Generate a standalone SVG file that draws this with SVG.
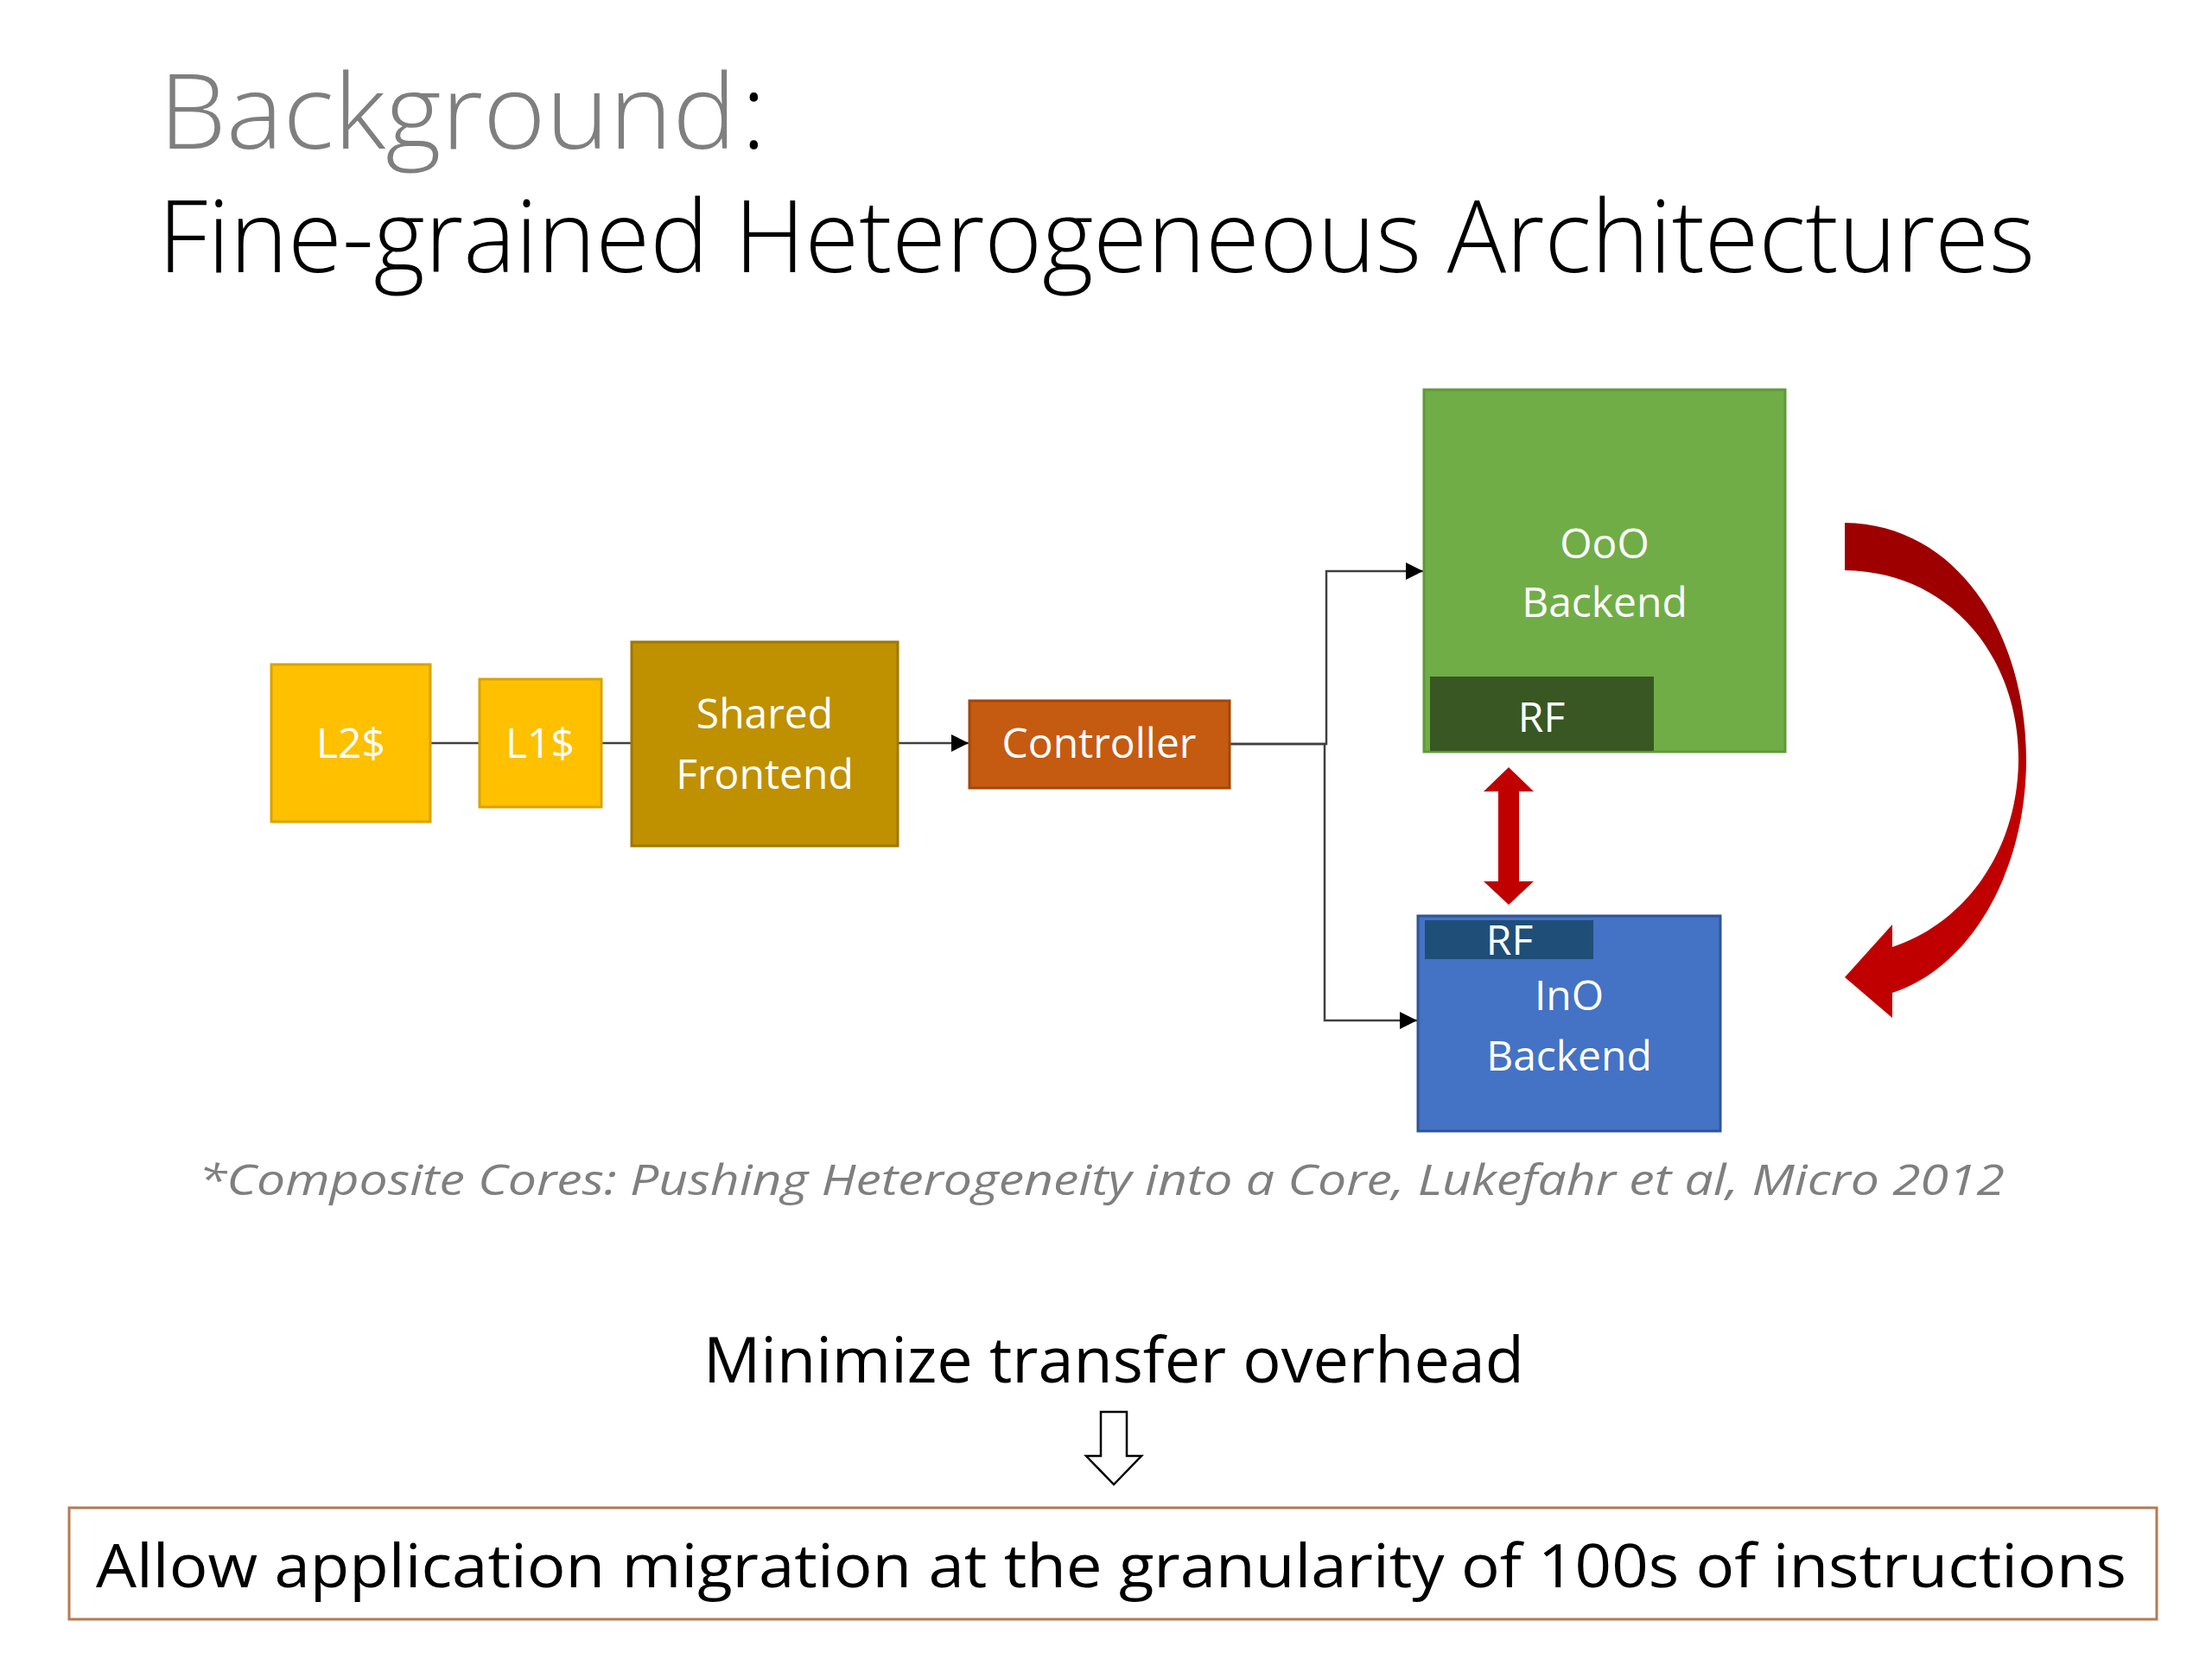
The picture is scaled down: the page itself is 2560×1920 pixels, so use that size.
<svg xmlns="http://www.w3.org/2000/svg" width="2560" height="1920" viewBox="0 0 2560 1920">
<style>
text{font-family:"Open Sans","Noto Sans","DejaVu Sans",sans-serif}
.lbl{fill:#ffffff;font-size:48px;text-anchor:middle}
.conn{fill:none;stroke:#404040;stroke-width:2.5}
</style>
<defs>
<marker id="ah" markerUnits="userSpaceOnUse" markerWidth="22" markerHeight="20" refX="20" refY="10" orient="auto">
<path d="M0,0 L20,10 L0,20 Z" fill="#000000"/>
</marker>
<linearGradient id="redg" gradientUnits="userSpaceOnUse" x1="0" y1="605" x2="0" y2="1180">
<stop offset="0" stop-color="#9E0000"/>
<stop offset="0.42" stop-color="#A00000"/>
<stop offset="0.52" stop-color="#C00000"/>
<stop offset="1" stop-color="#C00000"/>
</linearGradient>
</defs>
<rect width="2560" height="1920" fill="#ffffff"/>

<g id="title">
<text x="184" y="172" font-size="120" font-weight="300" fill="#7F7F7F" textLength="668" lengthAdjust="spacingAndGlyphs">Background</text>
<text x="858" y="172" font-size="120" font-weight="300" fill="#000000">:</text>
<text x="183" y="315" font-size="116" font-weight="300" fill="#000000" textLength="2172" lengthAdjust="spacingAndGlyphs">Fine-grained Heterogeneous Architectures</text>
</g>

<g id="connectors">
<path class="conn" d="M498,860 H555"/>
<path class="conn" d="M696,860 H733"/>
<path class="conn" d="M1040,860 H1121" marker-end="url(#ah)"/>
<path class="conn" d="M1423,861 H1535 V661 H1647" marker-end="url(#ah)"/>
<path class="conn" d="M1423,861 H1533 V1181 H1640" marker-end="url(#ah)"/>
</g>

<g id="l2">
<rect x="314" y="769" width="184" height="182" fill="#FFC000" stroke="#D9A300" stroke-width="3"/>
<text class="lbl" x="406" y="877">L2$</text>
</g>
<g id="l1">
<rect x="555" y="786" width="141" height="148" fill="#FFC000" stroke="#D9A300" stroke-width="3"/>
<text class="lbl" x="625" y="877">L1$</text>
</g>
<g id="frontend">
<rect x="731" y="743" width="308" height="236" fill="#BF9000" stroke="#9E7700" stroke-width="3"/>
<text class="lbl" x="885" y="843">Shared</text>
<text class="lbl" x="885" y="913">Frontend</text>
</g>
<g id="controller">
<rect x="1122" y="811" width="301" height="101" fill="#C55A11" stroke="#A2470B" stroke-width="3"/>
<text class="lbl" x="1272" y="877">Controller</text>
</g>
<g id="ooo">
<rect x="1648" y="451" width="418" height="419" fill="#70AD47" stroke="#5E9A38" stroke-width="3"/>
<text class="lbl" x="1857" y="646">OoO</text>
<text class="lbl" x="1857" y="714">Backend</text>
<g id="rf-ooo">
<rect x="1655" y="783" width="259" height="86" fill="#385723"/>
<text class="lbl" x="1784" y="847">RF</text>
</g>
</g>
<g id="ino">
<rect x="1641" y="1060" width="350" height="249" fill="#4472C4" stroke="#2F5597" stroke-width="3"/>
<g id="rf-ino">
<rect x="1649" y="1065" width="195" height="45" fill="#1F4E79"/>
<text class="lbl" x="1747" y="1105">RF</text>
</g>
<text class="lbl" x="1816" y="1169">InO</text>
<text class="lbl" x="1816" y="1239">Backend</text>
</g>

<g id="rf-transfer">
<polygon points="1746,888 1775,916 1758,916 1758,1020 1775,1020 1746,1047 1717,1020 1734,1020 1734,916 1717,916" fill="#C00000"/>
</g>

<g id="migration-arrow">
<path d="M2135,605 C2270,607 2346,740 2345,882 C2344,1010 2280,1120 2190,1149 L2190,1178 L2135,1131 L2190,1070 L2190,1096 C2270,1070 2334,990 2336,882 C2338,770 2265,662 2135,660 Z" fill="url(#redg)"/>
</g>

<g id="footnote">
<text x="230" y="1383" font-size="50" font-style="italic" fill="#7F7F7F" textLength="2090" lengthAdjust="spacingAndGlyphs">*Composite Cores: Pushing Heterogeneity into a Core, Lukefahr et al, Micro 2012</text>
</g>

<g id="minimize">
<text x="1289" y="1600" font-size="74" fill="#000000" text-anchor="middle" textLength="950" lengthAdjust="spacingAndGlyphs">Minimize transfer overhead</text>
</g>

<g id="down-arrow">
<polygon points="1274,1634 1304,1634 1304,1685 1321,1685 1289,1718 1257,1685 1274,1685" fill="#ffffff" stroke="#000000" stroke-width="2.5" stroke-linejoin="miter"/>
</g>

<g id="goal">
<rect x="80" y="1745" width="2416" height="129" fill="#ffffff" stroke="#B57A52" stroke-width="3"/>
<text x="111" y="1837" font-size="70" fill="#000000" textLength="2350" lengthAdjust="spacingAndGlyphs">Allow application migration at the granularity of 100s of instructions</text>
</g>
</svg>
